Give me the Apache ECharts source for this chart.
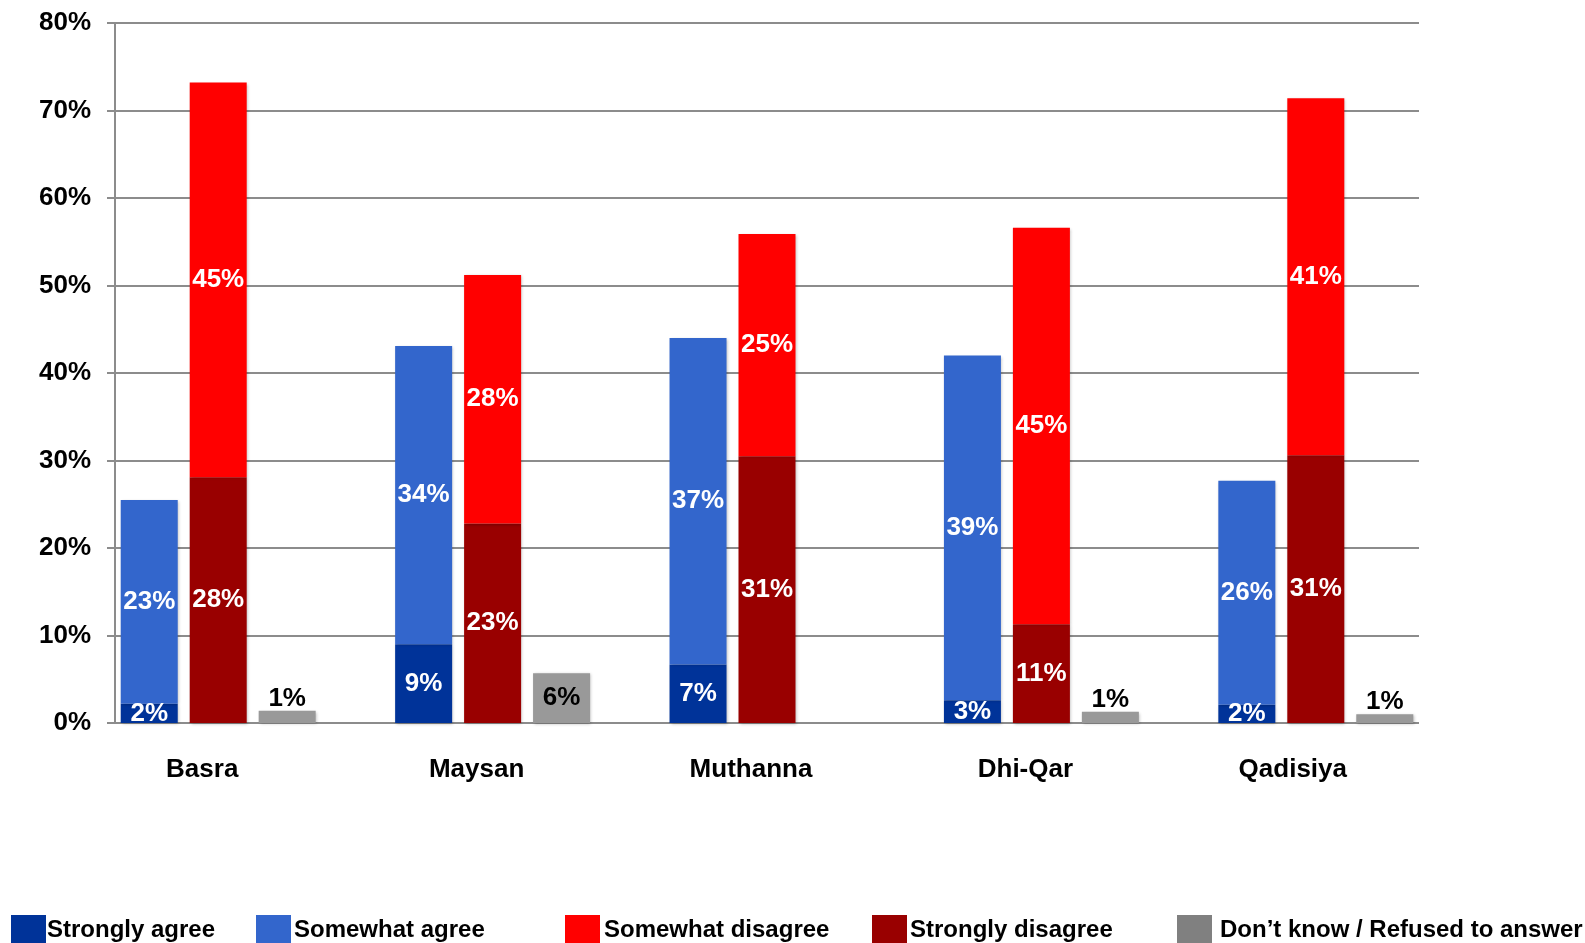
<!DOCTYPE html>
<html>
<head>
<meta charset="utf-8">
<script src="https://cdn.jsdelivr.net/npm/echarts@6/dist/echarts.min.js"></script>
<style>
  html, body { margin: 0; padding: 0; background: #fff; }
  #chart { width: 1585px; height: 943px; }
</style>
</head>
<body>
<div id="chart"></div>
<script>
var regions = ['Basra', 'Maysan', 'Muthanna', 'Dhi-Qar', 'Qadisiya'];
var stronglyAgree = [2.2, 9.0, 6.7, 2.6, 2.1];
var somewhatAgree = [23.3, 34.1, 37.3, 39.4, 25.6];
var stronglyDisagree = [28.1, 22.8, 30.5, 11.3, 30.6];
var somewhatDisagree = [45.1, 28.4, 25.4, 45.3, 40.8];
var dontKnow = [1.4, 5.7, null, 1.3, 1.0];
var yTicks = [0, 10, 20, 30, 40, 50, 60, 70, 80];

var font = 'Liberation Sans, Arial, sans-serif';
var myChart = echarts.init(document.getElementById('chart'));

function pct(p) {
    return Math.round(p.value) + '%';
}

function barSeries(name, data, stack, color, labelColor) {
    return {
        name: name,
        type: 'bar',
        xAxisIndex: 1,
        yAxisIndex: 1,
        stack: stack,
        barWidth: 57,
        barGap: '21%',
        data: data,
        itemStyle: {
            color: color,
            shadowBlur: 3,
            shadowOffsetX: 1,
            shadowOffsetY: 1,
            shadowColor: 'rgba(0, 0, 0, 0.25)'
        },
        label: {
            show: true,
            position: 'inside',
            formatter: pct,
            color: labelColor,
            fontFamily: font,
            fontWeight: 'bold',
            fontSize: 26
        }
    };
}

// legend items are placed one by one like in the original
var legendItems = [
    { name: 'Strongly agree', left: 11, gap: -4, color: '#003399' },
    { name: 'Somewhat agree', left: 256, gap: -2, color: '#3366CC' },
    { name: 'Somewhat disagree', left: 565, gap: -1, color: '#FF0000' },
    { name: 'Strongly disagree', left: 872, gap: -2, color: '#990000' },
    { name: 'Don\u2019t know / Refused to answer', left: 1177, gap: 3, color: '#808080' }
];

var dkSeries = barSeries('Don\u2019t know / Refused to answer', dontKnow.map(function (v) {
    return { value: v, label: { position: v > 3 ? 'inside' : 'top' } };
}), 'dk', '#999999', '#000');
dkSeries.label.distance = -1;

option = {
    backgroundColor: '#fff',
    animation: false,
    grid: [
        { left: 115, right: 166, top: 23, bottom: 220 },
        { left: 81, width: 1372, top: 23, bottom: 220 }
    ],
    legend: legendItems.map(function (it) {
        return {
            data: [{ name: it.name, icon: 'rect', itemStyle: { color: it.color } }],
            left: it.left,
            top: 915,
            padding: 0,
            itemWidth: 35,
            itemHeight: 30,
            selectedMode: false,
            textStyle: {
                fontFamily: font,
                fontWeight: 'bold',
                fontSize: 24,
                color: '#000',
                padding: [0, 0, 0, it.gap]
            }
        };
    }),
    xAxis: [
        { type: 'category', gridIndex: 0, data: regions, show: false },
        {
            type: 'category',
            gridIndex: 1,
            data: regions.map(function (r, i) {
                return { value: r, textStyle: { padding: [0, i === 4 ? 46 : 32, 0, 0] } };
            }),
            axisLine: { show: false },
            axisTick: { show: false },
            axisLabel: {
                margin: 34,
                color: '#000',
                fontFamily: font,
                fontWeight: 'bold',
                fontSize: 26
            }
        }
    ],
    yAxis: [
        {
            type: 'value',
            gridIndex: 0,
            min: yTicks[0],
            max: yTicks[yTicks.length - 1],
            interval: 10,
            axisLine: { show: true, lineStyle: { color: '#8c8c8c', width: 2 } },
            axisTick: { show: true, length: 8, lineStyle: { color: '#8c8c8c', width: 2 } },
            splitLine: { show: true, lineStyle: { color: '#8c8c8c', width: 2 } },
            axisLabel: {
                margin: 24,
                formatter: '{value}%',
                color: '#000',
                fontFamily: font,
                fontWeight: 'bold',
                fontSize: 26,
                padding: [6, 0, 0, 0]
            }
        },
        {
            type: 'value',
            gridIndex: 1,
            min: 0,
            max: 80,
            show: false,
            splitLine: { show: false }
        }
    ],
    series: [
        barSeries('Strongly agree', stronglyAgree, 'agree', '#003399', '#fff'),
        barSeries('Somewhat agree', somewhatAgree, 'agree', '#3366CC', '#fff'),
        barSeries('Strongly disagree', stronglyDisagree, 'disagree', '#990000', '#fff'),
        barSeries('Somewhat disagree', somewhatDisagree, 'disagree', '#FF0000', '#fff'),
        dkSeries
    ]
};
myChart.setOption(option);
</script>
</body>
</html>
